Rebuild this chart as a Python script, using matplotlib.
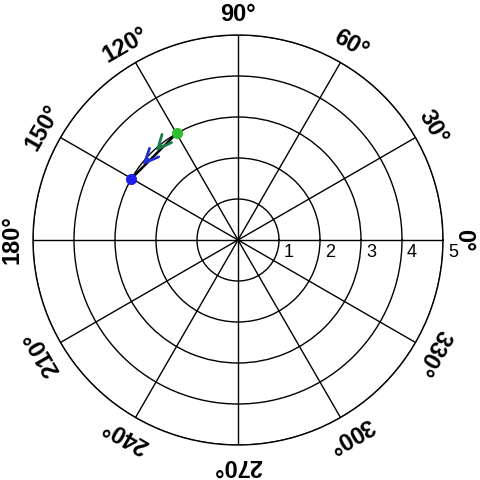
import numpy as np
import matplotlib
matplotlib.use("Agg")
import matplotlib.pyplot as plt

# data
theta_ticks_deg = [0, 30, 60, 90, 120, 150, 180, 210, 240, 270, 300, 330]
theta_labels = [f"{d}\u00b0" for d in theta_ticks_deg]
r_ticks = [1, 2, 3, 4, 5]
r_labels = ["1", "2", "3", "4", "5"]
start_theta_deg = 120
start_r = 3
end_theta_deg = 150
end_r = 3
arrow_tip_theta_deg = [133, 142]

plt.rcParams['font.family'] = ['Liberation Sans', 'DejaVu Sans']

fig = plt.figure(figsize=(4.8, 4.8), dpi=100)
ax = fig.add_axes([33/480, 35/480, 410/480, 410/480], projection='polar')
ax.set_ylim(0, 5)
ax.set_xticks(np.deg2rad(theta_ticks_deg))
ax.set_xticklabels([])
ax.set_yticks(r_ticks)
ax.set_yticklabels([])
ax.grid(True, color='black', linewidth=1.0)
ax.spines['polar'].set_color('black')
ax.spines['polar'].set_linewidth(1.0)
ax.tick_params(length=0)

for d, lab in zip(theta_ticks_deg, theta_labels):
    ax.text(np.deg2rad(d), 5.5, lab, rotation=d - 90, ha='center', va='center',
            rotation_mode='anchor', fontsize=17, fontweight='bold', clip_on=False)

for r, lab in zip(r_ticks, r_labels):
    ax.annotate(lab, xy=(0, r), xytext=(3.5, -3), textcoords='offset points',
                ha='left', va='top', fontsize=13, annotation_clip=False)

# line between points
ax.plot(np.deg2rad([start_theta_deg, end_theta_deg]), [start_r, end_r],
        color='black', linewidth=1.8, zorder=3)
arrow_style = '->,head_length=1.0,head_width=0.45'
ax.annotate('', xy=(np.deg2rad(arrow_tip_theta_deg[0]), start_r - 0.05),
            xytext=(np.deg2rad(arrow_tip_theta_deg[0] - 4), start_r - 0.02),
            arrowprops=dict(arrowstyle=arrow_style, color='#1a7a4a', linewidth=2.0,
                            shrinkA=0, shrinkB=0), zorder=4)
ax.annotate('', xy=(np.deg2rad(arrow_tip_theta_deg[1]), end_r - 0.04),
            xytext=(np.deg2rad(arrow_tip_theta_deg[1] - 4), end_r - 0.05),
            arrowprops=dict(arrowstyle=arrow_style, color='#1f2fd0', linewidth=2.0,
                            shrinkA=0, shrinkB=0), zorder=4)
ax.plot([np.deg2rad(start_theta_deg)], [start_r], 'o', color='#2fbf2f',
        markersize=7, zorder=5)
ax.plot([np.deg2rad(end_theta_deg)], [end_r], 'o', color='#2020ee',
        markersize=7, zorder=5)

fig.savefig("out.png", dpi=100)
